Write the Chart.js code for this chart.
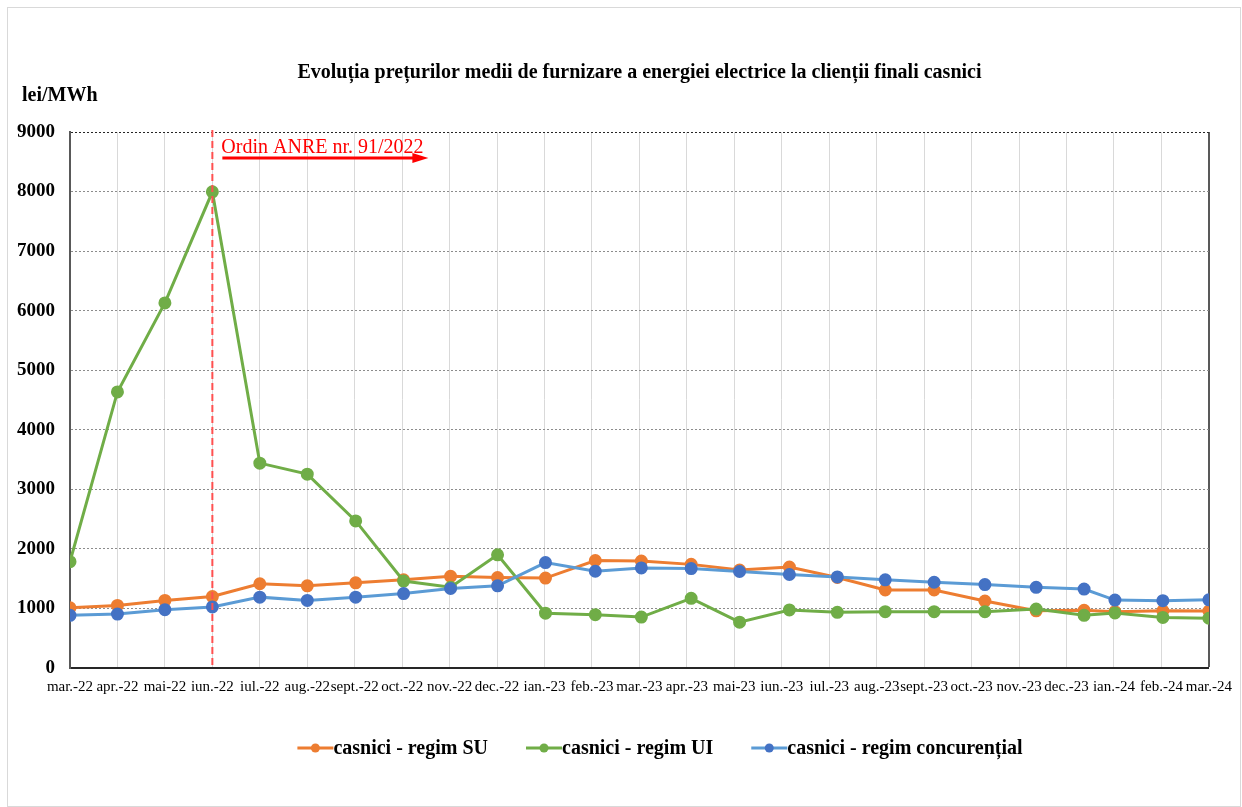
<!DOCTYPE html>
<html>
<head>
<meta charset="utf-8">
<script src="https://cdn.jsdelivr.net/npm/chart.js@4.4.1/dist/chart.umd.min.js"></script>
<style>
  html, body { margin:0; padding:0; background:#fff; }
  #wrap { position:relative; width:1242px; height:807px; }
</style>
</head>
<body>
<div id="wrap"><canvas id="grafic" width="1242" height="807"></canvas></div>
<script>
// luni (etichete axa X)
const luni = ['mar.-22','apr.-22','mai-22','iun.-22','iul.-22','aug.-22','sept.-22','oct.-22','nov.-22','dec.-22',
              'ian.-23','feb.-23','mar.-23','apr.-23','mai-23','iun.-23','iul.-23','aug.-23','sept.-23','oct.-23',
              'nov.-23','dec.-23','ian.-24','feb.-24','mar.-24'];
// pozitia punctelor pe axa (luni de la mar.-22)
const pozitii = [0,1,2,3,4,5,6.02,7.03,8.02,9.01,10.02,11.07,12.04,13.09,14.11,15.16,16.17,17.18,18.21,19.28,
                 20.36,21.37,22.02,23.03,24];
const regimSU   = [1010,1050,1135,1200,1415,1380,1430,1480,1540,1520,1510,1805,1795,1740,1645,1695,1520,1310,1310,1125,960,970,945,960,955];
const regimUI   = [1785,4635,6130,7995,3440,3255,2470,1460,1355,1900,920,895,855,1170,770,975,935,945,945,945,990,885,925,850,835];
const regimConc = [885,905,980,1025,1190,1135,1190,1250,1335,1380,1770,1625,1680,1670,1620,1570,1530,1480,1440,1400,1355,1325,1140,1130,1145];
const yTicks = [0,1000,2000,3000,4000,5000,6000,7000,8000,9000];

const titlu = 'Evoluția prețurilor medii de furnizare a energiei electrice la clienții finali casnici';
const unitate = 'lei/MWh';
const ordinText = 'Ordin ANRE nr. 91/2022';
const ordinLuna = 3;   // iun.-22

const FONT = '"Liberation Serif", "Times New Roman", serif';

function puncte(valori){
  return valori.map((v,i)=>({x:pozitii[i], y:v}));
}

function serie(nume, valori, linie, punct, ordine){
  return {
    label: nume,
    data: puncte(valori),
    borderColor: linie,
    backgroundColor: punct,
    pointBackgroundColor: punct,
    pointBorderColor: punct,
    borderWidth: 3,
    pointRadius: 5,
    pointHoverRadius: 5,
    tension: 0,
    order: ordine
  };
}

//=========================plugin decor============================
const decor = {
  id: 'decor',
  beforeDraw(chart){
    const c = chart.ctx;
    c.save();
    c.fillStyle = '#fff';
    c.fillRect(0,0,chart.width,chart.height);
    c.strokeStyle = '#d9d9d9';
    c.lineWidth = 1;
    c.strokeRect(7.5,7.5,1233,799);
    c.restore();
  },
  afterDraw(chart){
    const c = chart.ctx;
    const a = chart.chartArea;
    const sx = chart.scales.x;
    c.save();
    // titlu
    c.fillStyle = '#000';
    c.font = 'bold 20px ' + FONT;
    c.textAlign = 'center';
    c.textBaseline = 'middle';
    c.fillText(titlu, (a.left+a.right)/2, 73);
    // unitate
    c.textAlign = 'left';
    c.fillText(unitate, 22, 96);

    // linie ordin ANRE
    const xo = sx.getPixelForValue(ordinLuna);
    c.strokeStyle = '#ff5050';
    c.lineWidth = 2;
    c.setLineDash([7,4]);
    c.beginPath();
    c.moveTo(xo, a.top-2);
    c.lineTo(xo, a.bottom);
    c.stroke();
    c.setLineDash([]);
    c.fillStyle = '#ff0000';
    c.font = '20px ' + FONT;
    c.textBaseline = 'alphabetic';
    c.fillText(ordinText, xo+9, a.top+21);
    c.strokeStyle = '#ff0000';
    c.lineWidth = 3;
    c.beginPath();
    c.moveTo(xo+10, a.top+26);
    c.lineTo(xo+202, a.top+26);
    c.stroke();
    c.beginPath();
    c.moveTo(xo+216, a.top+26);
    c.lineTo(xo+200, a.top+21);
    c.lineTo(xo+200, a.top+31);
    c.closePath();
    c.fill();

    // legenda
    c.font = 'bold 20px ' + FONT;
    c.textBaseline = 'middle';
    const ds = chart.data.datasets;
    const lat = 36, gap = 38;
    let total = 0;
    ds.forEach((d,i)=>{ total += lat + c.measureText(d.label).width + (i<ds.length-1?gap:0); });
    let x = 660 - total/2;
    const y = 748;
    ds.forEach(d=>{
      c.strokeStyle = d.borderColor;
      c.lineWidth = 3;
      c.beginPath();
      c.moveTo(x, y); c.lineTo(x+lat, y);
      c.stroke();
      c.fillStyle = d.pointBackgroundColor;
      c.beginPath();
      c.arc(x+lat/2, y, 4.5, 0, Math.PI*2);
      c.fill();
      c.fillStyle = '#000';
      c.fillText(d.label, x+lat, y+1);
      x += lat + c.measureText(d.label).width + gap;
    });
    c.restore();
  }
};

const grafic = new Chart(document.getElementById('grafic'), {
  type: 'line',
  data: {
    datasets: [
      serie('casnici - regim SU', regimSU, '#ED7D31', '#ED7D31', 3),
      serie('casnici - regim UI', regimUI, '#70AD47', '#70AD47', 2),
      serie('casnici - regim concurențial', regimConc, '#5B9BD5', '#4472C4', 1)
    ]
  },
  options: {
    responsive: false,
    animation: false,
    layout: { padding: { left:14, right:32, top:132, bottom:109 } },
    plugins: { legend:{display:false}, title:{display:false}, tooltip:{enabled:false} },
    scales: {
      x: {
        type: 'linear',
        min: 0, max: luni.length-1,
        afterBuildTicks(s){ s.ticks = luni.map((l,i)=>({value:i})); },
        afterFit(s){ s.height = 30; },
        ticks: {
          autoSkip:false, maxRotation:0, minRotation:0, padding:10,
          color:'#000', font:{family:FONT, size:15},
          callback:(v)=>luni[v]
        },
        grid: {
          drawTicks:false,
          color:(ctx)=> ctx.index===luni.length-1 ? '#595959' : '#d9d9d9',
          lineWidth:(ctx)=> ctx.index===luni.length-1 ? 2 : 1
        },
        border: { color:'#262626', width:2 }
      },
      y: {
        min: 0, max: 9000,
        afterBuildTicks(s){ s.ticks = yTicks.map(v=>({value:v})); },
        afterFit(s){ s.width = 56; },
        ticks: { color:'#000', padding:15, font:{family:FONT, size:19, weight:'bold'},
                 callback:(v)=>String(v) },
        grid: {
          drawTicks:false,
          color:(ctx)=> ctx.tick && ctx.tick.value===9000 ? '#262626' : '#8c8c8c',
          lineWidth:1
        },
        border: { color:'#595959', width:2, dash:[2,2] }
      }
    }
  },
  plugins: [decor]
});
</script>
</body>
</html>
